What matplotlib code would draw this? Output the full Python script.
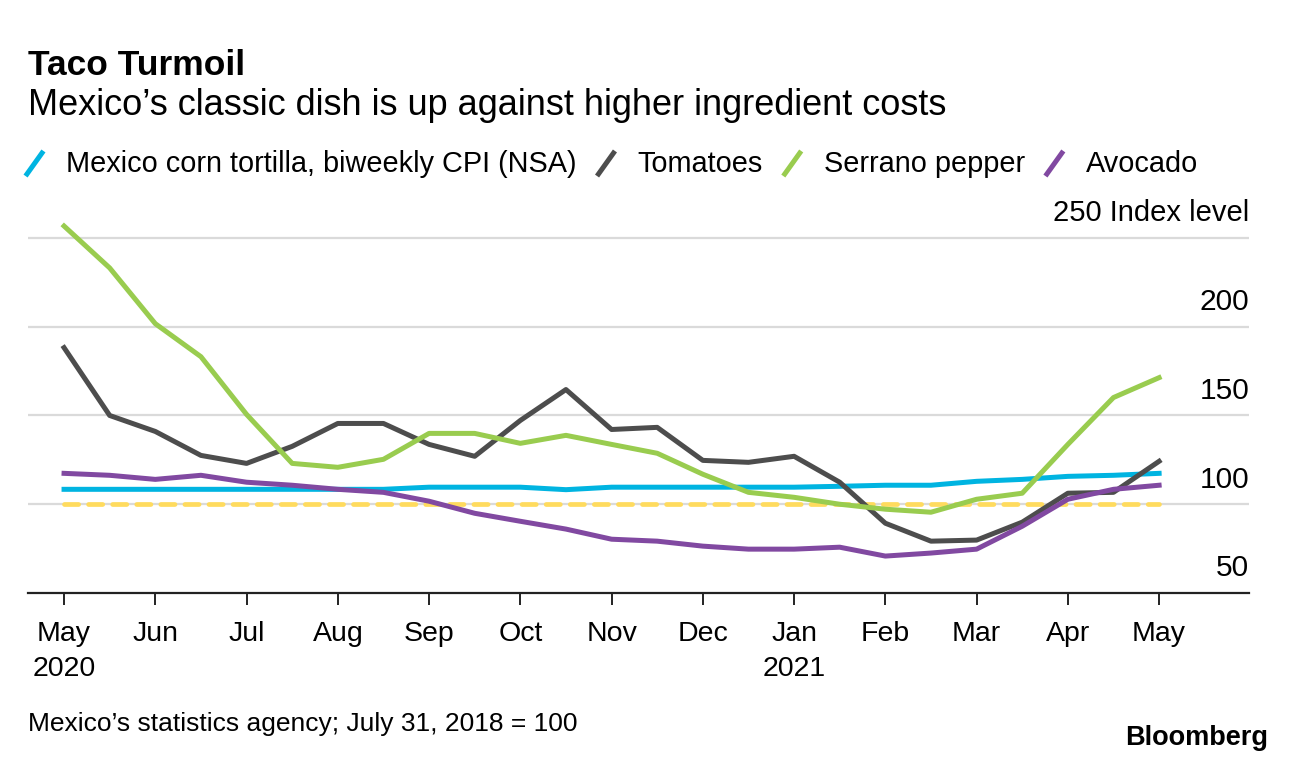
import numpy as np
import matplotlib
matplotlib.use("Agg")
from matplotlib import pyplot as plt
from matplotlib.lines import Line2D

plt.rcParams['font.family'] = ['Liberation Sans', 'DejaVu Sans']

# biweekly readings, May 2020 -> May 2021
periods = list(range(25))
month_labels = ["May\n2020", "Jun", "Jul", "Aug", "Sep", "Oct", "Nov", "Dec",
                "Jan\n2021", "Feb", "Mar", "Apr", "May"]

tortilla = [108.4, 108.4, 108.4, 108.4, 108.4, 108.4, 108.4, 108.4, 109.6, 109.6,
            109.6, 108.2, 109.6, 109.6, 109.6, 109.6, 109.6, 110.1, 110.7, 110.7,
            112.9, 114.0, 115.7, 116.3, 117.4]
tomatoes = [188.2, 150.0, 141.0, 127.5, 123.0, 132.6, 145.5, 145.5, 133.7, 127.0,
            147.2, 164.6, 142.1, 143.3, 124.7, 123.6, 127.0, 112.4, 89.3, 79.2,
            79.8, 89.9, 106.2, 106.7, 124.2]
serrano = [256.7, 233.1, 201.7, 183.1, 150.6, 123.0, 120.8, 125.3, 139.9, 139.9,
           134.3, 138.8, 133.7, 128.7, 116.9, 106.7, 103.9, 100.0, 97.2, 95.5,
           102.8, 106.2, 133.7, 160.1, 171.3]
avocado = [117.4, 116.3, 114.0, 116.3, 112.4, 110.7, 108.4, 106.7, 101.7, 94.9,
           90.4, 86.0, 80.3, 79.2, 76.4, 74.7, 74.7, 75.8, 70.8, 72.5,
           74.7, 87.6, 102.8, 108.4, 110.7]
base_level = 100

series = [
    ("Mexico corn tortilla, biweekly CPI (NSA)", tortilla, "#00b4e1"),
    ("Tomatoes", tomatoes, "#4d4d4d"),
    ("Serrano pepper", serrano, "#99cc4f"),
    ("Avocado", avocado, "#8149a1"),
]

W, H = 1296, 762
fig = plt.figure(figsize=(W / 100, H / 100), dpi=100)


def fx(px):
    return px / W


def fy(py):
    return 1 - py / H


ax = fig.add_axes([fx(28), fy(593), fx(1249 - 28), (593 - 220) / H])
ax.set_xlim(-0.79, 25.97)
ax.set_ylim(50, 260.1)

# gridlines
for v in [100, 150, 200, 250]:
    ax.axhline(v, color="#dadada", lw=1.6, zorder=1)

ax.plot([periods[0], periods[-1]], [base_level, base_level], color="#ffdb5e",
        lw=3.4, ls=(0, (3.0, 2.1)), zorder=2, dash_capstyle="round")

for name, vals, col in series:
    ax.plot(periods, vals, color=col, lw=3.6, zorder=3)

for s in ["top", "right", "left"]:
    ax.spines[s].set_visible(False)
ax.spines["bottom"].set_color("#222222")
ax.spines["bottom"].set_linewidth(1.6)

ax.set_xticks(periods[::2], month_labels, fontsize=20.5, linespacing=1.45)
ax.tick_params(axis="x", length=8.5, width=1.4, color="#222222", pad=12)
ax.set_yticks([])

# right side value labels sitting above gridlines
for v in [50, 100, 150, 200]:
    ax.annotate(str(v), xy=(1, v), xycoords=("axes fraction", "data"),
                xytext=(0, 12), textcoords="offset points",
                ha="right", va="baseline", fontsize=21.5)
ax.annotate("250 Index level", xy=(1, 250), xycoords=("axes fraction", "data"),
            xytext=(0, 12), textcoords="offset points",
            ha="right", va="baseline", fontsize=21)

# titles
fig.text(fx(28), fy(75), "Taco Turmoil", fontsize=25.5, weight="bold", va="baseline")
fig.text(fx(28), fy(115), "Mexico\u2019s classic dish is up against higher ingredient costs",
         fontsize=26, va="baseline")

# legend with slanted markers
fig.canvas.draw()
renderer = fig.canvas.get_renderer()
x_cur = 25
for name, vals, col in series:
    fig.add_artist(Line2D([fx(x_cur + 2), fx(x_cur + 17)], [fy(174), fy(153)],
                          color=col, lw=3.6, transform=fig.transFigure))
    t = fig.text(fx(x_cur + 41), fy(172), name, fontsize=20.8, va="baseline")
    bb = t.get_window_extent(renderer)
    x_cur = bb.x1 + 20

fig.text(fx(28), fy(731), "Mexico\u2019s statistics agency; July 31, 2018 = 100",
         fontsize=19, va="baseline")
fig.text(fx(1268), fy(745), "Bloomberg", fontsize=19.5, weight="bold",
         ha="right", va="baseline")

fig.savefig("out.png", dpi=100)
